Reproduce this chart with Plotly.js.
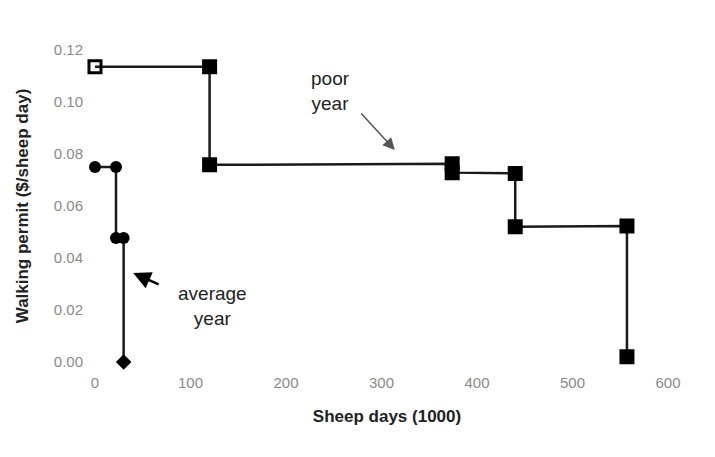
<!DOCTYPE html>
<html>
<head>
<meta charset="utf-8">
<script src="https://cdn.plot.ly/plotly-3.0.1.min.js"></script>
<style>html,body{margin:0;padding:0;background:#fff;}#chart{width:715px;height:457px;}</style>
</head>
<body>
<div id="chart"></div>
<script>
// Average year step curve
const avgX = [0, 22, 22, 30, 30];
const avgY = [0.075, 0.075, 0.0477, 0.0477, 0.0];
const avgSymbols = ['circle', 'circle', 'circle', 'circle', 'diamond'];
// Poor year step curve
const poorX = [0, 120, 120, 374, 374, 440, 440, 557, 557];
const poorY = [0.1135, 0.1135, 0.0758, 0.0762, 0.0728, 0.0725, 0.052, 0.0523, 0.002];
const poorSymbols = ['square-open', 'square', 'square', 'square', 'square', 'square', 'square', 'square', 'square'];
// Axis ticks
const xTicks = [0, 100, 200, 300, 400, 500, 600];
const yTicks = [0.00, 0.02, 0.04, 0.06, 0.08, 0.10, 0.12];
const yTickText = ['0.00', '0.02', '0.04', '0.06', '0.08', '0.10', '0.12'];

const traces = [
  {
    x: avgX, y: avgY, mode: 'lines+markers', type: 'scatter', cliponaxis: false,
    line: {color: '#1a1a1a', width: 2.5},
    marker: {color: '#000', size: 12, symbol: avgSymbols},
    showlegend: false
  },
  {
    x: poorX, y: poorY, mode: 'lines+markers', type: 'scatter', cliponaxis: false,
    line: {color: '#1a1a1a', width: 2.5},
    marker: {color: '#000', size: 12, symbol: poorSymbols, line: {color: '#000', width: 3}},
    showlegend: false
  }
];

const layout = {
  width: 715, height: 457,
  margin: {l: 84, r: 25, t: 40, b: 85},
  paper_bgcolor: '#fff', plot_bgcolor: '#fff',
  font: {family: 'Liberation Sans, Arial, sans-serif', color: '#222'},
  xaxis: {
    range: [-11.5, 623],
    tickvals: xTicks, ticktext: xTicks.map(String),
    showgrid: false, zeroline: false, showline: false,
    ticks: '', tickfont: {size: 15, color: '#8a8a8a'},
    title: {text: '<b>Sheep days (1000)</b>', font: {size: 17, color: '#222'}, standoff: 20}
  },
  yaxis: {
    range: [-0.00385, 0.1238],
    tickvals: yTicks, ticktext: yTickText,
    showgrid: false, zeroline: false, showline: false,
    ticks: '', tickfont: {size: 15, color: '#8a8a8a'},
    title: {text: '<b>Walking permit ($/sheep day)</b>', font: {size: 17, color: '#222'}, standoff: 20}
  },
  annotations: [
    {x: 247, y: 0.1042, xref: 'x', yref: 'y', text: 'poor<br>year', showarrow: false,
     font: {size: 19, color: '#222'}},
    {x: 314, y: 0.0815, xref: 'x', yref: 'y', text: '', showarrow: true,
     ax: -35, ay: -38, arrowhead: 2, arrowsize: 1.6, arrowwidth: 1.5, arrowcolor: '#555'},
    {x: 123, y: 0.0215, xref: 'x', yref: 'y', text: 'average<br>year', showarrow: false,
     font: {size: 19, color: '#222'}},
    {x: 40, y: 0.0342, xref: 'x', yref: 'y', text: '', showarrow: true,
     ax: 27, ay: 12, arrowhead: 2, arrowsize: 1.4, arrowwidth: 2.5, arrowcolor: '#000'}
  ]
};

Plotly.newPlot('chart', traces, layout, {displayModeBar: false, staticPlot: true});
</script>
</body>
</html>
